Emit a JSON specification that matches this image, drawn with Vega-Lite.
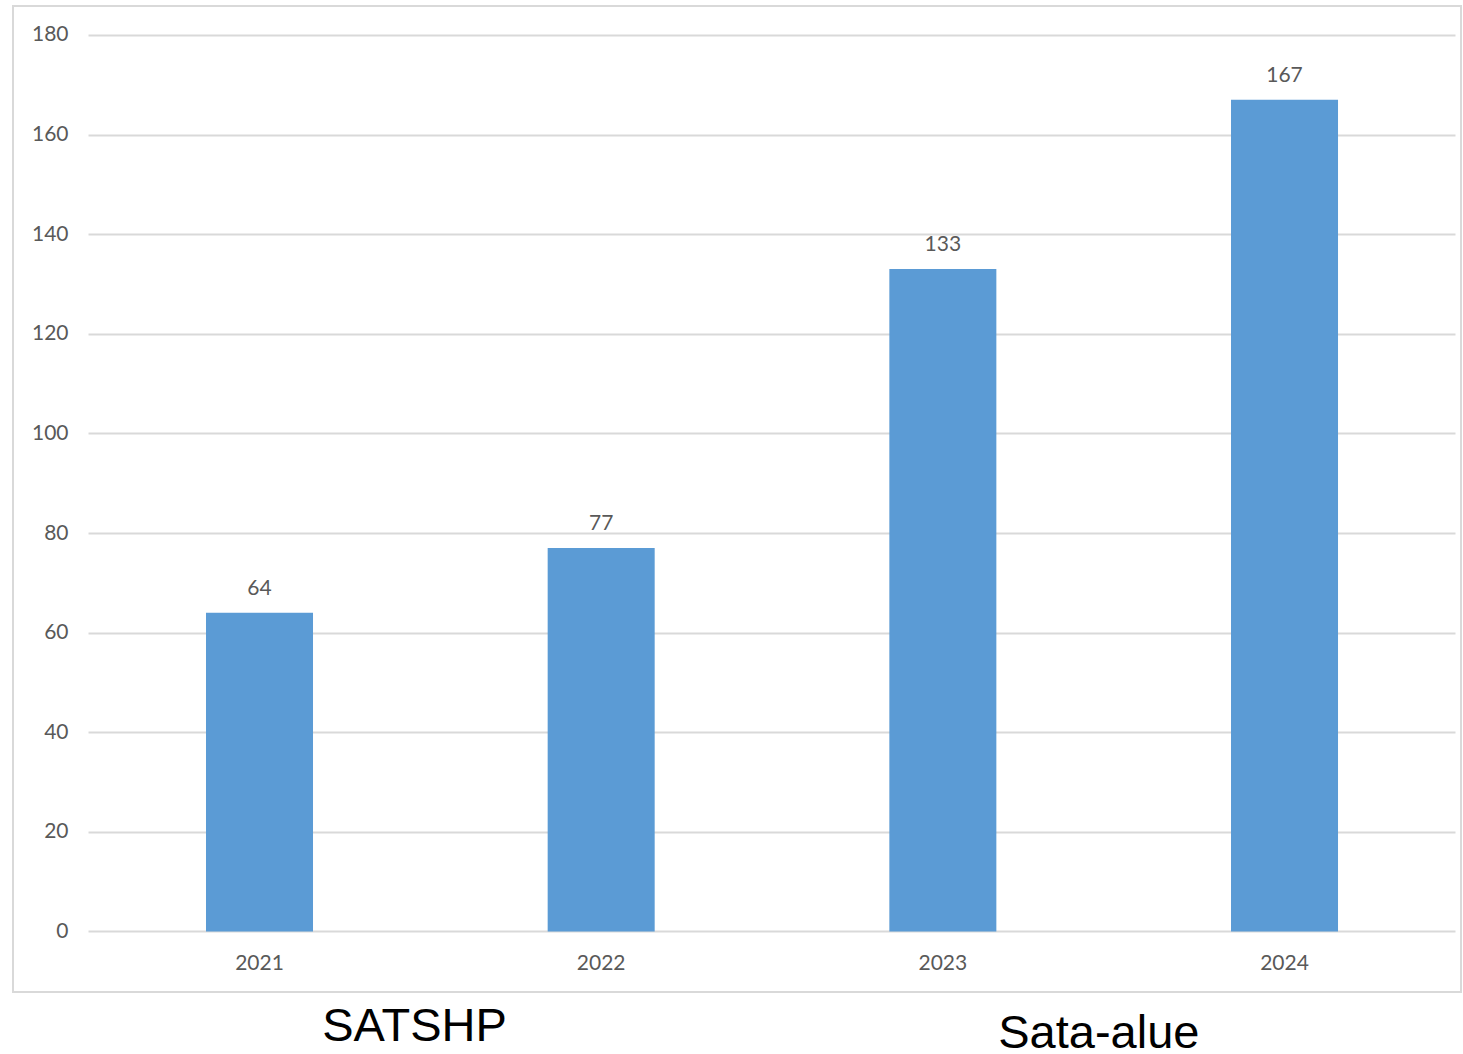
{
  "$schema": "https://vega.github.io/schema/vega-lite/v6.json",
  "width": 1448,
  "height": 986,
  "autosize": "none",
  "padding": {"left": 13, "top": 6, "right": 2, "bottom": 62},
  "background": "white",
  "data": {
    "values": [
      {"year": "2021", "value": 64},
      {"year": "2022", "value": 77},
      {"year": "2023", "value": 133},
      {"year": "2024", "value": 167}
    ]
  },
  "encoding": {
    "x": {
      "field": "year",
      "type": "nominal",
      "scale": {"paddingInner": 0.6868, "paddingOuter": 0.4624, "align": 0.6108},
      "axis": {
        "title": null,
        "orient": "bottom",
        "offset": -60.5,
        "domain": false,
        "ticks": false,
        "grid": false,
        "labelAngle": 0,
        "labelPadding": 21,
        "labelFont": "Lato",
        "labelFontSize": 21,
        "labelColor": "#595959"
      }
    }
  },
  "layer": [
    {
      "mark": {"type": "bar", "color": "#5b9bd5"},
      "encoding": {
        "y": {
          "field": "value",
          "type": "quantitative",
          "scale": {"domain": [-12.15, 185.82], "nice": false, "zero": false},
          "axis": {
            "title": null,
            "values": [0, 20, 40, 60, 80, 100, 120, 140, 160, 180],
            "offset": -75,
            "domain": false,
            "grid": false,
            "ticks": true,
            "tickSize": -1367,
            "tickColor": "#d9d9d9",
            "tickWidth": 2,
            "labelPadding": 1387,
            "labelFont": "Lato",
            "labelFontSize": 21,
            "labelColor": "#595959",
            "zindex": 0
          }
        },
        "y2": {"datum": 0}
      }
    },
    {
      "mark": {
        "type": "text",
        "baseline": "alphabetic",
        "align": "center",
        "dy": -18,
        "font": "Lato",
        "fontSize": 21,
        "color": "#595959"
      },
      "encoding": {
        "y": {"field": "value", "type": "quantitative"},
        "text": {"field": "value", "type": "quantitative"}
      }
    },
    {
      "data": {"values": [{"year": "2021", "note": "SATSHP"}]},
      "mark": {
        "type": "text",
        "baseline": "alphabetic",
        "align": "center",
        "dx": 155,
        "dy": 110,
        "font": "Liberation Sans",
        "fontSize": 47,
        "color": "black"
      },
      "encoding": {
        "y": {"datum": 0},
        "text": {"field": "note"}
      }
    },
    {
      "data": {"values": [{"year": "2023", "note": "Sata-alue"}]},
      "mark": {
        "type": "text",
        "baseline": "alphabetic",
        "align": "center",
        "dx": 156,
        "dy": 117,
        "font": "Liberation Sans",
        "fontSize": 47,
        "color": "black"
      },
      "encoding": {
        "y": {"datum": 0},
        "text": {"field": "note"}
      }
    }
  ],
  "config": {
    "view": {"stroke": "#d9d9d9", "strokeWidth": 2}
  }
}
